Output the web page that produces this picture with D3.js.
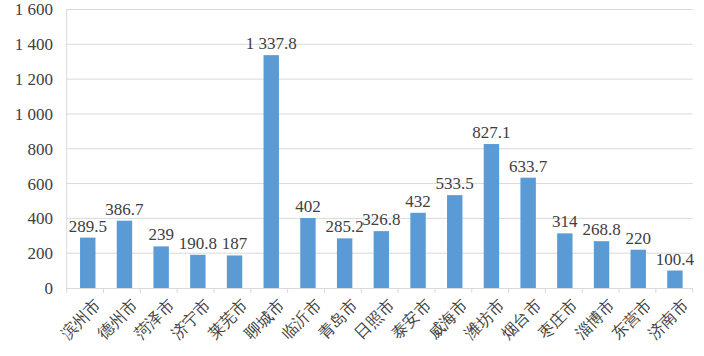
<!DOCTYPE html>
<html><head><meta charset="utf-8">
<script src="https://cdn.jsdelivr.net/npm/d3@7"></script>
<style>body{margin:0;background:#fff} svg, svg text{font-family:"Liberation Serif" !important;}</style>
</head><body>
<svg id="c" width="704" height="356" font-family="Liberation Serif"></svg>
<script>
const categories = ["滨州市","德州市","菏泽市","济宁市","莱芜市","聊城市","临沂市","青岛市","日照市","泰安市","威海市","潍坊市","烟台市","枣庄市","淄博市","东营市","济南市"];
const values = [289.5,386.7,239,190.8,187,1337.8,402,285.2,326.8,432,533.5,827.1,633.7,314,268.8,220,100.4];
const valueLabels = ["289.5","386.7","239","190.8","187","1 337.8","402","285.2","326.8","432","533.5","827.1","633.7","314","268.8","220","100.4"];
const yTicks = [0,200,400,600,800,1000,1200,1400,1600];
const yTickLabels = ["0","200","400","600","800","1 000","1 200","1 400","1 600"];

const svg = d3.select("#c");
const m = {l:66.7, r:692.7, t:9.5, b:288};
const x = d3.scaleBand().domain(categories).range([m.l, m.r]).paddingInner(0.58).paddingOuter(0.319).align(0.57);
const y = d3.scaleLinear().domain([0,1600]).range([m.b, m.t]);

// gridlines
svg.append("g").selectAll("line").data(yTicks.slice(1)).join("line")
  .attr("x1", m.l).attr("x2", m.r).attr("y1", d=>y(d)).attr("y2", d=>y(d))
  .attr("stroke","#d9d9d9").attr("stroke-width",1);
// left axis line
svg.append("line").attr("x1",m.l).attr("x2",m.l).attr("y1",m.t).attr("y2",m.b).attr("stroke","#d9d9d9");

// y labels
svg.append("g").selectAll("text").data(yTicks).join("text")
  .attr("x", 53).attr("y", d=>y(d)).attr("dy","0.35em").attr("text-anchor","end")
  .attr("font-size",17).attr("fill","#404040")
  .text((d,i)=>yTickLabels[i]);

// bars
svg.append("g").selectAll("rect").data(values).join("rect")
  .attr("x",(d,i)=>x(categories[i])).attr("width",x.bandwidth())
  .attr("y",d=>y(d)).attr("height",d=>y(0)-y(d)).attr("fill","#5b9bd5");

// value labels
svg.append("g").selectAll("text").data(values).join("text")
  .attr("x",(d,i)=>x(categories[i])+x.bandwidth()/2).attr("y",d=>y(d)-6)
  .attr("text-anchor","middle").attr("font-size",17).attr("fill","#404040")
  .text((d,i)=>valueLabels[i]);

// x axis
const step = (m.r-m.l)/categories.length;
svg.append("line").attr("x1",m.l).attr("x2",m.r).attr("y1",m.b+0.5).attr("y2",m.b+0.5).attr("stroke","#d9d9d9");
svg.append("g").selectAll("line").data(d3.range(categories.length+1)).join("line")
  .attr("x1",i=>m.l+i*step).attr("x2",i=>m.l+i*step).attr("y1",m.b).attr("y2",m.b+5)
  .attr("stroke","#d9d9d9");

// category labels
svg.append("g").selectAll("text").data(categories).join("text")
  .attr("transform",d=>`translate(${x(d)+x.bandwidth()/2+6},${m.b+10}) rotate(-45)`)
  .attr("text-anchor","end").attr("dy","0.7em").attr("font-size",16).attr("fill","#404040")
  .text(d=>d);
</script>
</body></html>
